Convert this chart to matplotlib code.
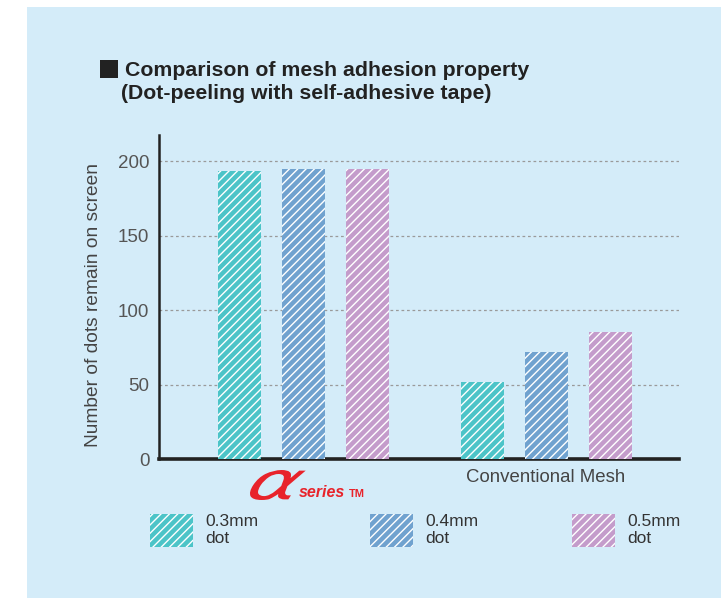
import matplotlib
matplotlib.use('Agg')
import matplotlib.pyplot as plt
from matplotlib.patches import Rectangle, PathPatch
from matplotlib.textpath import TextPath
from matplotlib.font_manager import FontProperties
from matplotlib.transforms import Affine2D
import numpy as np

# data
groups = ['αseries™', 'Conventional Mesh']
series = ['0.3mm\ndot', '0.4mm\ndot', '0.5mm\ndot']
values = {
    '0.3mm\ndot': [193, 52],
    '0.4mm\ndot': [195, 72],
    '0.5mm\ndot': [195, 85],
}
colors = ['#4cc4c8', '#70a2cf', '#c49ccb']
yticks = [0, 50, 100, 150, 200]

plt.rcParams['font.family'] = ['Liberation Sans', 'DejaVu Sans']
plt.rcParams['hatch.linewidth'] = 1.0

W, H = 721, 598
fig = plt.figure(figsize=(W / 100, H / 100), dpi=100, facecolor='white')

def fx(px):
    return px / W

def fy(py):
    return 1 - py / H

# light blue panel
fig.add_artist(Rectangle((fx(27), 0), 1, fy(7), transform=fig.transFigure,
                         facecolor='#d4ecf9', edgecolor='none', zorder=-10))

ax = fig.add_axes([fx(159), fy(459), fx(679) - fx(159), fy(135) - fy(459)])
ax.patch.set_visible(False)

x = np.arange(len(groups))
width = 0.177
offset = 0.264
for i, s in enumerate(series):
    ax.bar(x + (i - 1) * offset, values[s], width, color=colors[i],
           edgecolor='white', linewidth=0, hatch='////', zorder=3)

ax.set_xlim(-0.596, 1.548)
ax.set_ylim(0, 217.5)
ax.set_yticks(yticks)
ax.set_yticklabels([str(t) for t in yticks], fontsize=13.5, color='#555555')
ax.set_xticks(x)
ax.set_xticklabels(['', groups[1]], fontsize=13.4, color='#444444')
ax.tick_params(length=0)
ax.tick_params(axis='y', pad=7)
ax.tick_params(axis='x', pad=7)

for t in yticks[1:]:
    ax.axhline(t, color='#9a9a9a', linestyle=(0, (2.2, 2.2)), linewidth=0.9, zorder=1)

for side in ['top', 'right']:
    ax.spines[side].set_visible(False)
ax.spines['left'].set_linewidth(1.8)
ax.spines['bottom'].set_linewidth(2.6)
ax.spines['left'].set_color('#222222')
ax.spines['bottom'].set_color('#222222')

ax.set_ylabel('Number of dots remain on screen', fontsize=13.8, color='#444444')
ax.yaxis.set_label_coords(-0.11, 0.475)

# alpha series logo under first group
red = '#e8232b'
tp = TextPath((0, 0), 'α', size=40,
              prop=FontProperties(family='DejaVu Sans', style='italic'))
bb = tp.get_extents()
tr = (Affine2D().translate(-bb.x0, -bb.y0)
      .scale(48 / bb.width, 30 / bb.height)
      .skew_deg(20, 0)
      .translate(247, H - 500)
      .scale(1 / W, 1 / H) + fig.transFigure)
fig.add_artist(PathPatch(tp, transform=tr, facecolor=red, edgecolor='none'))
fig.text(fx(299), fy(497), 'series', fontsize=11.5, style='italic',
         weight='bold', color=red, ha='left', va='baseline')
fig.text(fx(349), fy(497), 'TM', fontsize=8, weight='bold', color=red,
         ha='left', va='baseline')

# title
fig.add_artist(Rectangle((fx(100), fy(78)), fx(18), 18 / H,
                         transform=fig.transFigure, facecolor='#222222',
                         edgecolor='none'))
fig.text(fx(125), fy(76), 'Comparison of mesh adhesion property',
         fontsize=15.3, weight='bold', color='#222222', va='baseline')
fig.text(fx(121), fy(99), '(Dot-peeling with self-adhesive tape)',
         fontsize=15.3, weight='bold', color='#222222', va='baseline')

# legend
leg_x = [150, 370, 572]
for i, s in enumerate(series):
    fig.add_artist(Rectangle((fx(leg_x[i]), fy(547)), fx(43), 33 / H,
                             transform=fig.transFigure, facecolor=colors[i],
                             edgecolor='white', linewidth=0, hatch='////'))
    fig.text(fx(leg_x[i] + 55), fy(530), s, fontsize=12.5, color='#333333',
             va='center', ha='left', linespacing=1.1)

fig.savefig('out.png', dpi=100, facecolor=fig.get_facecolor())
